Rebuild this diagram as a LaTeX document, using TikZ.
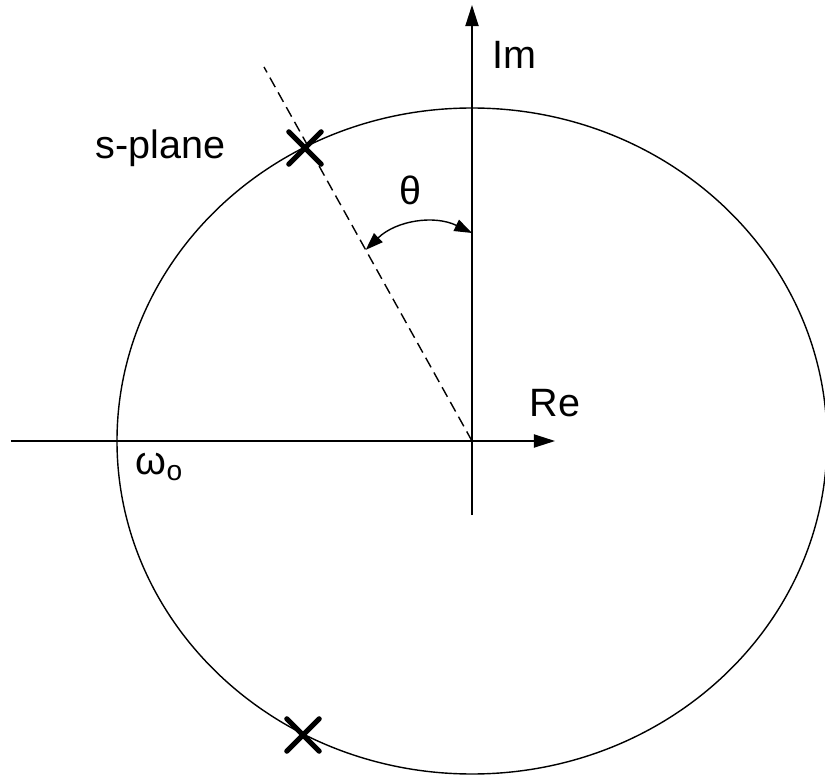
\documentclass[tikz,border=0pt]{standalone}
\usepackage{fontspec}
\setmainfont{Liberation Sans}
\usetikzlibrary{arrows.meta, shapes.misc, calc}

\begin{document}
\begin{tikzpicture}[x=0.2mm, y=0.2mm, line width=0.8pt,
    lbl/.style={inner sep=0pt, anchor=base west, font=\fontsize{22.5}{27}\selectfont},
    pole/.style={cross out, draw, line width=3pt, line cap=round,
                 minimum size=5.4mm, inner sep=0pt},
    axis/.style={-{Triangle[length=12pt, width=7.5pt]}}]
  % frame of the picture, origin at the crossing of the axes
  \useasboundingbox (-472,-335) rectangle (353,441);
  \clip (-472,-335) rectangle (353,441);
  \coordinate (O) at (0,0);
  \coordinate (xl) at (-461,0);
  \coordinate (xr) at (83,0);
  \coordinate (yb) at (0,-74);
  \coordinate (yt) at (0,436);
  \coordinate (ray) at (-208,374);
  % root locus circle
  \draw (O) ellipse [x radius=355, y radius=333];
  % axes
  \draw[axis] (xl) -- (xr);
  \draw[axis] (yb) -- (yt);
  % damping ray and angle
  \draw[dashed, dash pattern=on 6.2pt off 3.4pt] (O) -- (ray);
  \coordinate (tha) at ($(O)!0.511!(ray)$);
  \coordinate (thb) at (0,208);
  \draw[{Triangle[length=10pt, width=7pt]}-{Triangle[length=10pt, width=7pt]}]
    (tha) to[bend left=35] (thb);
  % poles
  \node[pole] (p1) at (-167,293) {};
  \node[pole] (p2) at (-169,-294) {};
  % labels
  \node[lbl] (im) at (20,372) {Im};
  \node[lbl] (re) at (57,24) {Re};
  \node[lbl] (sp) at (-377,282) {s-plane};
  \node[font=\fontsize{22.5}{27}\selectfont, inner sep=0pt] (th) at (-62,251) {θ};
  \node[lbl] (w0) at (-337,-33) {ω\raisebox{-0.3ex}{\fontsize{16}{19}\selectfont o}};
\end{tikzpicture}
\end{document}
